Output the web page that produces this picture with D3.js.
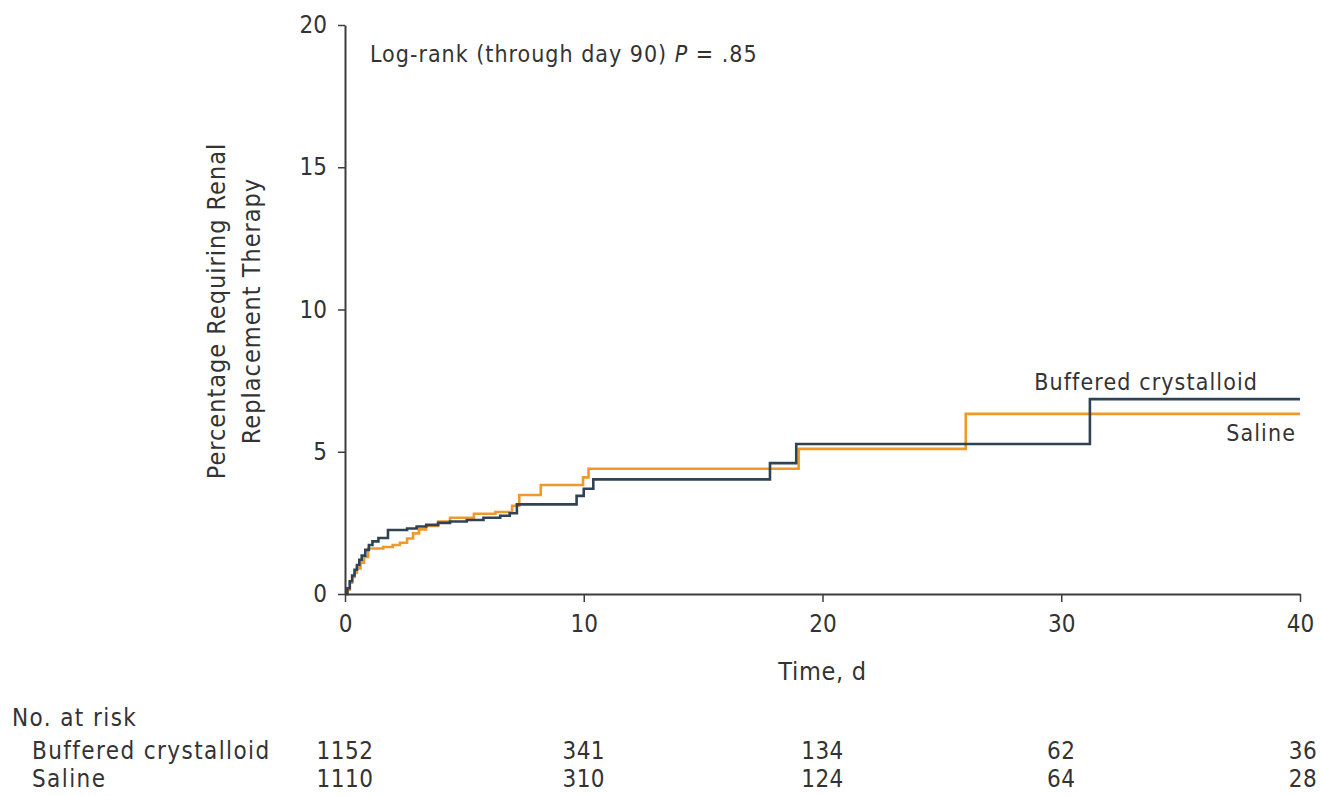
<!DOCTYPE html>
<html>
<head>
<meta charset="utf-8">
<script src="https://cdn.jsdelivr.net/npm/d3@7"></script>
<style>
  html, body { margin: 0; padding: 0; background: #fff; }
  svg text { font-family: "Liberation Sans Narrow", "DejaVu Sans Condensed", "Liberation Sans", sans-serif; fill: #333; }
</style>
</head>
<body>
<svg id="chart" width="1321" height="796"></svg>
<script>
// ---- data ----
const bufferedTimes  = [0, 0.1, 0.2, 0.3, 0.4, 0.5, 0.6, 0.7, 0.85, 1.0, 1.15, 1.4, 1.8, 2.6, 3.0, 3.4, 3.9, 4.4, 5.1, 5.8, 6.5, 6.9, 7.2, 9.7, 10.0, 10.4, 17.8, 18.9, 31.2, 40];
const bufferedValues = [0, 0.2, 0.45, 0.65, 0.85, 1.02, 1.2, 1.35, 1.55, 1.72, 1.85, 1.97, 2.25, 2.3, 2.37, 2.43, 2.5, 2.55, 2.6, 2.68, 2.75, 2.84, 3.15, 3.45, 3.7, 4.03, 4.6, 5.27, 6.85, 6.85];
const salineTimes    = [0, 0.1, 0.2, 0.3, 0.4, 0.5, 0.65, 0.8, 0.97, 1.6, 2.0, 2.3, 2.6, 2.85, 3.1, 3.4, 3.9, 4.4, 5.4, 6.3, 7.0, 7.3, 8.2, 9.97, 10.2, 19.0, 26.0, 40];
const salineValues   = [0, 0.15, 0.4, 0.6, 0.75, 0.9, 1.1, 1.3, 1.6, 1.65, 1.72, 1.8, 1.95, 2.13, 2.27, 2.39, 2.55, 2.68, 2.82, 2.88, 3.1, 3.48, 3.83, 4.1, 4.4, 5.1, 6.33, 6.33];
const xTicks = [0, 10, 20, 30, 40];
const yTicks = [0, 5, 10, 15, 20];
const groups = ["Buffered crystalloid", "Saline"];
const atRiskBuffered = [1152, 341, 134, 62, 36];
const atRiskSaline   = [1110, 310, 124, 64, 28];
const annotation = "Log-rank (through day 90) ";
const pValueText = "P";
const pValueRest = " = .85";

// ---- layout ----
const svg = d3.select("#chart");
const margin = { left: 345, right: 21, top: 25, bottom: 202 };
const W = 1321, H = 796;
const x = d3.scaleLinear().domain([0, 40]).range([margin.left, W - margin.right]);
const y = d3.scaleLinear().domain([0, 20]).range([H - margin.bottom, margin.top]);
const axisColor = "#3d3d3d";
const fontStack = '"Liberation Sans Narrow", "DejaVu Sans Condensed", "Liberation Sans", sans-serif';

// curves
const line = d3.line().x(d => x(d[0])).y(d => y(d[1])).curve(d3.curveStepAfter);
const salineData = d3.zip(salineTimes, salineValues);
const bufData = d3.zip(bufferedTimes, bufferedValues);
svg.append("path").datum(salineData).attr("d", line)
  .attr("fill", "none").attr("stroke", "#f0982a").attr("stroke-width", 2.6);
svg.append("path").datum(bufData).attr("d", line)
  .attr("fill", "none").attr("stroke", "#2f4354").attr("stroke-width", 2.6);

// axes
const xAxis = d3.axisBottom(x).tickValues(xTicks).tickSize(8).tickPadding(13).tickSizeOuter(0);
const gx = svg.append("g").attr("transform", `translate(0,${y(0)})`).call(xAxis);
const yAxis = d3.axisLeft(y).tickValues(yTicks).tickSize(7).tickPadding(11).tickSizeOuter(0);
const gy = svg.append("g").attr("transform", `translate(${x(0)},0)`).call(yAxis);
[gx, gy].forEach(g => {
  g.select(".domain").attr("stroke", axisColor).attr("stroke-width", 2);
  g.selectAll(".tick line").attr("stroke", axisColor).attr("stroke-width", 1.5);
  g.selectAll(".tick text").attr("font-size", 24).attr("fill", "#333")
    .style("font-family", fontStack);
});

// axis titles
svg.append("text").attr("x", x(20)).attr("y", 680).attr("text-anchor", "middle")
  .attr("font-size", 25).attr("letter-spacing", 0.7).text("Time, d");
const yl = svg.append("text").attr("transform", `translate(225,311) rotate(-90)`)
  .attr("text-anchor", "middle").attr("font-size", 25).attr("letter-spacing", 1);
yl.append("tspan").attr("x", 0).attr("dy", 0).text("Percentage Requiring Renal");
yl.append("tspan").attr("x", 0).attr("dy", 35).text("Replacement Therapy");

// annotation
const ann = svg.append("text").attr("x", 370).attr("y", 62).attr("font-size", 23).attr("letter-spacing", 1);
ann.append("tspan").text(annotation);
ann.append("tspan").attr("font-style", "italic").text(pValueText);
ann.append("tspan").text(pValueRest);

// line labels
svg.append("text").attr("x", 1258).attr("y", 390).attr("text-anchor", "end")
  .attr("font-size", 23).attr("letter-spacing", 1.1).text(groups[0]);
svg.append("text").attr("x", 1296).attr("y", 441).attr("text-anchor", "end")
  .attr("font-size", 23).attr("letter-spacing", 1.1).text(groups[1]);

// number at risk
svg.append("text").attr("x", 12).attr("y", 726).attr("font-size", 24)
  .attr("letter-spacing", 1.4).text("No. at risk");
const rows = [atRiskBuffered, atRiskSaline];
rows.forEach((vals, i) => {
  const ry = 759 + i * 28;
  svg.append("text").attr("x", 32).attr("y", ry).attr("font-size", 24)
    .attr("letter-spacing", 1.4).text(groups[i]);
  svg.selectAll(null).data(vals).enter().append("text")
    .attr("x", (d, j) => x(xTicks[j]) + (j === xTicks.length - 1 ? 3 : 0))
    .attr("y", ry).attr("text-anchor", "middle").attr("font-size", 24)
    .attr("letter-spacing", 0.5)
    .text(d => d);
});
</script>
</body>
</html>
